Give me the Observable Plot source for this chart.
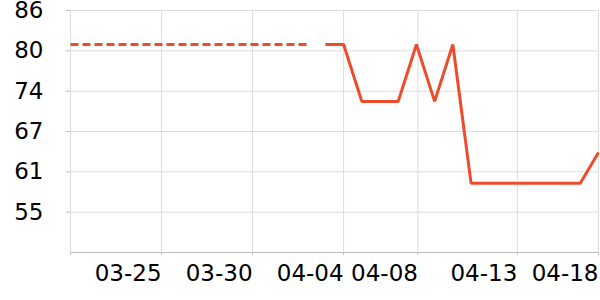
<!DOCTYPE html>
<html>
<head>
<meta charset="utf-8">
<script src="https://cdn.jsdelivr.net/npm/d3@7"></script>
<script src="https://cdn.jsdelivr.net/npm/@observablehq/plot@0.6"></script>
<style>
  html, body { margin: 0; padding: 0; background: #fff; }
  #chart svg { font-family: "DejaVu Sans", sans-serif; overflow: visible; }
</style>
</head>
<body>
<div id="chart"></div>
<script>
// Dashed segment (earlier period)
const dashedDates = ["2024-03-20","2024-03-21","2024-03-22","2024-03-23","2024-03-24","2024-03-25","2024-03-26",
  "2024-03-27","2024-03-28","2024-03-29","2024-03-30","2024-03-31","2024-04-01","2024-04-02"];
const dashedValues = [80.8,80.8,80.8,80.8,80.8,80.8,80.8,80.8,80.8,80.8,80.8,80.8,80.8,80.8];

// Solid segment
const solidDates = ["2024-04-03","2024-04-04","2024-04-05","2024-04-06","2024-04-07","2024-04-08","2024-04-09",
  "2024-04-10","2024-04-11","2024-04-12","2024-04-13","2024-04-14","2024-04-15","2024-04-16","2024-04-17","2024-04-18"];
const solidValues = [80.8,80.8,72.1,72.1,72.1,80.8,72.1,80.8,59.6,59.6,59.6,59.6,59.6,59.6,59.6,64.3];

// Axis ticks
const xTickDates = ["2024-03-20","2024-03-25","2024-03-30","2024-04-04","2024-04-08T02:00","2024-04-13T13:00","2024-04-18"];
const xTickLabels = ["","03-25","03-30","04-04","04-08","04-13","04-18"];
const yTicks = [55.17, 61.33, 67.5, 73.67, 79.83, 86];
const yTickLabels = ["55","61","67","74","80","86"];
const yDomain = [49, 86];

const parse = (s) => new Date(s + (s.includes("T") ? "Z" : "T00:00Z"));
const dashed = dashedDates.map((d, i) => ({date: parse(d), value: dashedValues[i]}));
const solid = solidDates.map((d, i) => ({date: parse(d), value: solidValues[i]}));
const xTicks = xTickDates.map(parse);

const color = "#ee4b2b";

const chart = Plot.plot({
  width: 600,
  height: 300,
  marginTop: 10,
  marginBottom: 48,
  marginLeft: 70,
  marginRight: 2,
  style: {fontFamily: "DejaVu Sans, sans-serif", fontSize: "23px", color: "#000", background: "#fff", overflow: "visible"},
  x: {type: "utc", domain: [parse("2024-03-20"), parse("2024-04-18")]},
  y: {domain: yDomain},
  marks: [
    Plot.gridX(xTicks, {stroke: "#dcdcdc", strokeOpacity: 1}),
    Plot.gridY(yTicks, {stroke: "#dcdcdc", strokeOpacity: 1}),
    Plot.ruleY([yDomain[0]], {stroke: "#bdbdbd", strokeWidth: 1.2}),
    Plot.axisX(xTicks, {
      tickSize: 3,
      tickPadding: 9,
      stroke: "#bdbdbd",
      textAnchor: "end",
      fontSize: 23,
      tickFormat: (d) => xTickLabels[xTicks.findIndex(t => +t === +d)],
      label: null
    }),
    Plot.axisY(yTicks, {
      tickSize: 4,
      tickPadding: 23,
      stroke: "#bdbdbd",
      fontSize: 23,
      tickFormat: (d) => yTickLabels[yTicks.indexOf(d)],
      label: null
    }),
    Plot.line(dashed, {x: "date", y: "value", stroke: color, strokeWidth: 3, strokeDasharray: "8,4",
      strokeLinecap: "butt", strokeLinejoin: "miter"}),
    Plot.line(solid, {x: "date", y: "value", stroke: color, strokeWidth: 3,
      strokeLinecap: "butt", strokeLinejoin: "miter"})
  ]
});
document.getElementById("chart").appendChild(chart);
</script>
</body>
</html>
